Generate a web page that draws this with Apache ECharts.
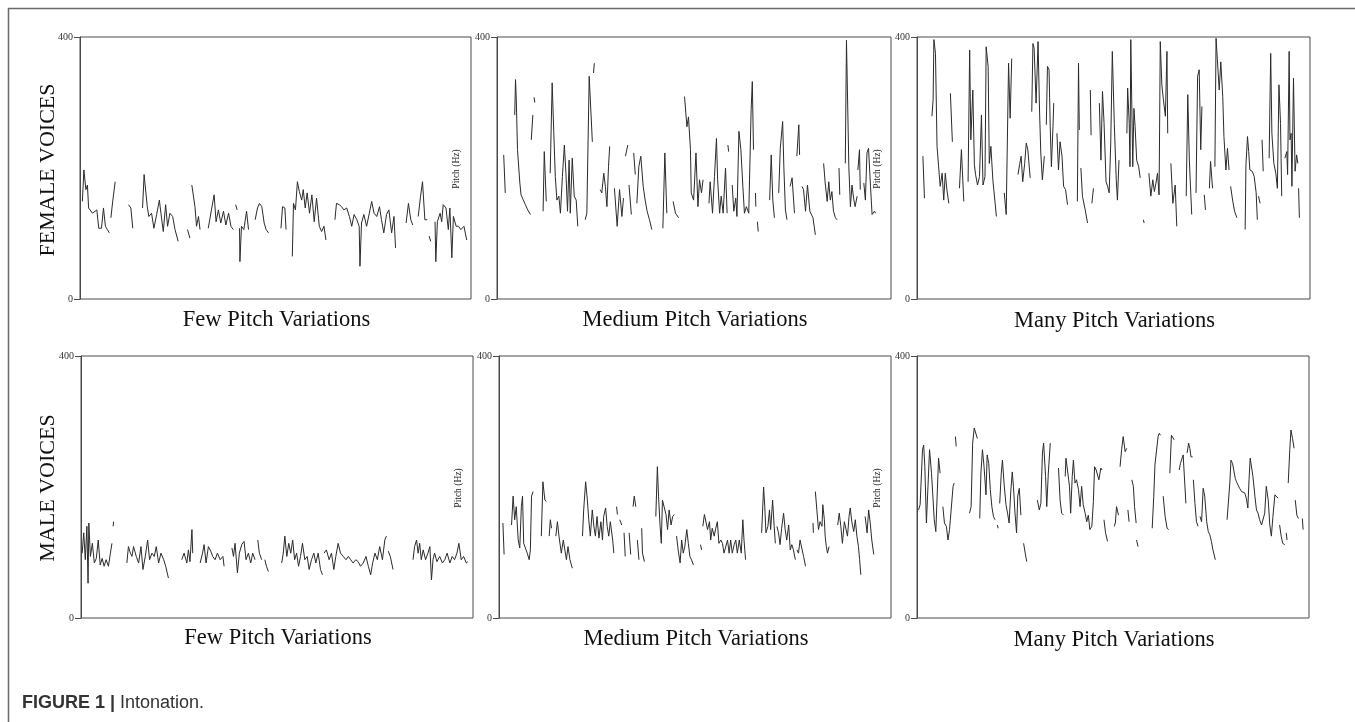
<!DOCTYPE html>
<html>
<head>
<meta charset="utf-8">
<script src="https://cdn.jsdelivr.net/npm/echarts@6/dist/echarts.min.js"></script>
<style>
html,body{margin:0;padding:0;background:#fff;}
#chart{width:1355px;height:722px;}
</style>
</head>
<body>
<div id="chart"></div>
<script>
// ---- data: pitch contours, x = % of recording duration, y = pitch (Hz); each inner list is one voiced segment ----
const yTicks = [0, 400];
const rowLabels = ["FEMALE VOICES", "MALE VOICES"];
const columnTitles = ["Few Pitch Variations", "Medium Pitch Variations", "Many Pitch Variations"];
const yAxisName = "Pitch (Hz)";

const femaleFew = [
 [[0.6,149],[1.0,197],[1.5,167],[1.9,174],[2.2,139],[2.7,136],[3.2,131],[3.7,134],[4.3,136],[4.8,108],[5.5,108],[6.0,139],[6.5,111],[7.0,106],[7.5,101]],
 [[7.9,124],[8.4,151],[9.0,179]],
 [[12.4,144],[13.0,139],[13.5,108]],
 [[16.0,139],[16.4,190],[16.8,190],[17.2,141],[17.6,126],[18.3,131],[18.9,108],[19.6,129],[20.3,151],[20.7,131],[21.3,103],[21.9,144],[22.4,111],[23.0,131],[23.7,126],[24.3,106],[25.1,88]],
 [[27.5,106],[28.1,93]],
 [[28.6,174],[28.8,177],[29.4,141],[29.8,111],[30.3,126],[30.7,106]],
 [[32.8,108],[33.7,139],[34.3,159],[34.8,118],[35.4,136],[36.0,116],[36.7,134],[37.3,113],[38.0,131],[38.6,111],[39.2,106]],
 [[39.8,144],[40.2,136]],
 [[40.8,108],[40.9,57],[41.3,111],[41.9,106],[42.6,134],[43.1,106]],
 [[44.8,121],[45.4,139],[45.9,146],[46.5,141],[47.1,116],[47.6,106],[48.2,101]],
 [[51.4,108],[51.8,141],[52.4,139],[52.7,106]],
 [[54.3,65],[54.6,146],[55.1,136],[55.6,179],[56.1,164],[56.7,151],[57.1,167],[57.6,139],[58.1,162],[58.7,131],[59.3,159],[59.9,118],[60.5,154],[61.2,111],[61.8,103],[62.4,111],[62.9,90]],
 [[65.2,121],[65.6,146],[66.3,144],[66.9,141],[67.5,136],[68.2,139],[68.9,126],[69.5,111],[70.1,129],[70.8,121],[71.4,111],[71.6,50],[72.0,116],[72.6,129],[73.3,111],[74.0,131],[74.6,149],[75.2,131],[75.9,126],[76.6,141],[77.1,121],[77.7,101],[78.4,129],[79.0,136],[79.7,101],[80.3,126],[80.7,78]],
 [[83.4,116],[84.0,146],[84.6,121],[85.1,113]],
 [[86.5,126],[87.1,157],[87.6,179],[88.2,121],[88.8,121]],
 [[89.3,96],[89.7,88]],
 [[90.8,118],[91.0,57],[91.4,118],[92.1,131],[92.5,118],[92.9,144],[93.6,139],[94.2,106],[94.6,139],[95.1,63],[95.5,126],[96.2,111],[96.8,111],[97.4,106],[98.2,111],[98.9,90]]
];

const femaleMedium = [
 [[1.7,220],[2.1,162]],
 [[4.5,281],[4.7,335],[4.9,304],[5.2,228],[5.8,177],[6.1,159],[6.6,162],[7.2,144],[7.8,136],[8.5,129]],
 [[8.7,243],[9.1,281]],
 [[9.4,308],[9.6,300]],
 [[11.7,134],[12.0,225],[12.5,149]],
 [[13.5,192],[14.0,330],[14.4,256],[14.8,187],[15.2,151],[15.7,157],[16.1,131],[16.6,187],[17.1,235],[17.5,192],[17.9,134],[18.3,212],[18.6,131],[19.1,215],[19.6,157],[20.1,151],[20.5,111]],
 [[22.4,121],[22.8,131],[23.4,340],[23.8,342],[24.2,240]],
 [[24.5,345],[24.7,360]],
 [[26.2,167],[26.6,162],[27.1,192],[27.5,172],[27.9,141],[28.3,202],[28.6,233]],
 [[29.8,169],[30.5,111],[31.1,167],[31.7,126],[32.1,154]],
 [[32.6,218],[33.2,235]],
 [[33.5,174],[34.1,129]],
 [[34.7,223],[35.1,190]],
 [[35.5,146],[36.0,202],[36.5,218],[37.1,172],[37.6,151],[38.1,134],[38.7,121],[39.3,106]],
 [[42.1,108],[42.6,223],[43.1,131]],
 [[44.7,149],[45.3,131],[46.1,124]],
 [[47.6,309],[48.2,263],[48.6,278],[49.1,228],[49.3,162],[49.9,151],[50.5,223],[51.0,141],[51.4,182],[51.9,162],[52.3,182]],
 [[53.8,146],[54.1,179],[54.7,131],[55.2,187],[55.7,245],[56.0,182],[56.5,131],[56.9,157],[57.4,131],[58.0,200],[58.4,131]],
 [[58.6,235],[58.8,225]],
 [[59.7,174],[60.1,134],[60.6,154],[60.9,126],[61.4,256],[61.9,228],[62.4,172],[62.8,131],[63.3,141],[63.9,131],[64.5,289],[64.8,332],[65.1,228]],
 [[65.6,162],[65.7,141]],
 [[66.1,118],[66.3,103]],
 [[69.2,151],[69.6,220],[70.0,151],[70.4,124]],
 [[71.5,162],[71.9,230],[72.5,271],[72.8,202],[73.2,136],[73.6,121]],
 [[74.4,172],[74.9,185],[75.5,131]],
 [[76.1,218],[76.6,266],[76.8,220]],
 [[77.4,172],[77.8,167],[78.3,134],[78.8,174],[79.4,134],[79.7,131],[80.2,124],[80.8,98]],
 [[82.9,207],[83.3,177],[83.8,149],[84.2,179],[84.6,151],[85.0,164],[85.4,134],[85.9,124],[86.3,121]],
 [[86.8,200],[87.0,159]],
 [[88.4,207],[88.7,395],[89.0,393],[89.3,202],[89.7,141],[90.1,174],[90.5,154],[90.9,141],[91.4,157]],
 [[91.6,197],[92.0,228],[92.2,167]],
 [[93.1,177],[93.5,151],[93.9,223],[94.3,230],[94.8,172],[95.2,129],[95.8,134],[96.1,131]]
];

const femaleMany = [
 [[1.5,218],[1.9,154]],
 [[3.8,279],[4.1,304],[4.3,396],[4.7,375],[5.1,233],[5.5,202],[5.9,172],[6.4,192],[6.8,151],[7.2,192],[7.6,167],[8.1,146]],
 [[8.5,314],[9.0,240]],
 [[10.8,169],[11.3,228],[11.9,149]],
 [[13.0,179],[13.4,380],[13.7,243],[14.2,319],[14.6,205],[14.9,190],[15.4,174],[15.9,187],[16.4,281],[16.8,174],[17.3,187],[17.6,385],[18.1,355],[18.4,207],[18.8,233],[19.3,182],[19.8,151],[20.2,126]],
 [[22.2,162],[22.7,129],[23.3,360],[23.7,276],[24.1,367]],
 [[25.7,190],[26.1,205],[26.5,218],[26.9,179],[27.4,207],[27.8,238],[28.2,228],[28.8,185]],
 [[29.2,286],[29.5,390],[29.8,383],[30.3,299],[30.8,393],[31.2,284],[31.5,223],[31.9,182],[32.4,218]],
 [[32.9,266],[33.2,355],[33.6,350],[33.9,263],[34.2,202],[34.6,263],[34.8,299]],
 [[35.6,253],[36.0,197],[36.4,240],[36.9,218],[37.3,172],[37.8,167],[38.3,144]],
 [[40.8,149],[41.1,360],[41.3,258]],
 [[41.7,200],[42.1,157],[42.8,136],[43.4,116]],
 [[44.1,319],[44.3,250]],
 [[44.5,146],[44.9,169]],
 [[46.4,299],[46.8,212],[47.2,317],[47.6,268],[48.1,179],[48.5,172],[48.9,162],[49.3,238],[49.7,378],[50.2,268],[50.7,182],[51.0,151],[51.4,212]],
 [[53.4,253],[53.6,322],[54.0,268],[54.2,202],[54.4,396],[54.7,398],[54.9,202],[55.2,291],[55.5,263],[55.9,212],[56.4,202],[56.8,185]],
 [[57.6,121],[57.8,116]],
 [[59.0,192],[59.5,157],[60.0,182],[60.4,164],[60.8,177],[61.2,192],[61.6,159],[61.9,393],[62.3,327],[62.7,304],[63.2,279],[63.6,378],[63.8,253]],
 [[64.6,207],[65.1,146],[65.7,174],[66.1,111]],
 [[68.5,157],[68.9,312],[69.3,212],[69.9,129]],
 [[71.0,162],[71.4,340],[71.8,350],[72.2,228],[72.5,294]],
 [[73.1,159],[73.4,136]],
 [[74.4,169],[74.7,210],[75.2,169]],
 [[75.8,202],[76.1,398],[76.5,398],[76.9,319],[77.3,362],[77.8,309],[78.1,248],[78.6,197],[79.0,230],[79.4,197]],
 [[79.8,172],[80.3,151],[80.8,134],[81.4,124]],
 [[83.5,106],[83.7,205],[84.1,248],[84.4,225],[84.7,197],[85.3,195],[85.8,187],[86.3,162],[86.6,121]],
 [[86.9,157],[87.3,146]],
 [[87.8,243],[88.1,195]],
 [[89.6,215],[90.0,375],[90.3,253],[90.8,207],[91.3,192],[91.7,169],[92.1,327],[92.5,268],[92.8,157]],
 [[93.6,215],[94.1,225],[94.3,190],[94.7,378],[94.9,243],[95.2,253],[95.4,172],[95.8,337],[96.2,195],[96.6,220],[96.9,207]],
 [[97.1,169],[97.3,124]]
];

const maleFew = [
 [[0.3,99],[0.7,130],[1.1,89],[1.5,140],[1.8,53],[2.0,145],[2.4,94],[2.9,114],[3.4,84],[3.9,91],[4.4,119],[4.9,81],[5.4,91],[5.9,79],[6.4,89],[7.0,79],[7.5,99],[7.9,114]],
 [[8.2,140],[8.3,147]],
 [[11.7,84],[12.1,109],[12.6,99],[13.0,94],[13.4,109],[14.1,94],[14.7,84],[15.3,109],[15.8,74],[16.4,94],[17.0,119],[17.5,89],[18.1,99],[18.7,94],[19.2,109],[19.8,84],[20.4,99],[21.1,89],[21.6,79],[22.3,61]],
 [[25.7,89],[26.3,99],[27.0,84],[27.4,104],[27.8,86],[28.3,135],[28.5,99]],
 [[30.4,84],[31.0,99],[31.4,112],[31.9,84],[32.5,109],[33.1,102],[33.6,94],[34.2,89],[34.8,99],[35.5,89],[36.2,94],[36.5,79]],
 [[38.5,107],[38.9,94],[39.3,114],[39.9,69],[40.4,99],[41.0,112],[41.6,117],[42.1,89],[42.7,99],[43.3,84],[43.8,99],[44.4,89]],
 [[45.1,119],[45.5,99],[46.1,89]],
 [[46.9,89],[47.3,79],[47.8,71]],
 [[51.2,84],[51.6,99],[52.0,125],[52.5,94],[53.0,114],[53.5,99],[54.0,119],[54.5,89],[55.0,99],[55.5,79],[56.0,94],[56.5,114],[57.1,89],[57.7,94],[58.2,74],[58.8,89],[59.4,99],[59.9,84],[60.5,99],[61.1,74],[61.6,66]],
 [[62.0,99],[62.6,104],[63.3,89],[63.9,99],[64.5,74],[65.0,94],[65.6,114],[66.2,99],[66.9,94],[67.6,89],[68.2,94],[68.8,89],[69.4,84],[70.1,89],[70.7,86],[71.3,79],[72.0,84],[72.7,94],[73.3,79],[73.9,66],[74.4,84],[75.0,99],[75.6,89],[76.2,109],[76.9,89],[77.5,119],[77.9,125]],
 [[78.4,102],[78.9,94],[79.6,74]],
 [[84.7,89],[85.1,109],[85.6,119],[86.0,99],[86.4,114],[86.8,89],[87.3,104],[87.9,89],[88.5,99],[89.0,109],[89.4,58],[89.8,89],[90.2,99],[90.8,86],[91.5,94],[92.2,84],[92.8,89],[93.4,99],[94.1,84],[94.7,94],[95.3,89],[95.9,99],[96.4,114],[97.0,89],[97.6,94],[98.3,84],[98.7,86]]
];

const maleMedium = [
 [[1.0,145],[1.3,97]],
 [[3.2,142],[3.6,186],[4.0,150],[4.4,170],[4.9,119],[5.3,107],[5.7,170],[6.0,186],[6.3,114],[6.8,112],[7.2,99],[7.7,89],[8.0,104],[8.3,186],[8.7,193]],
 [[10.8,125],[11.2,208],[11.7,180],[12.1,178]],
 [[12.8,125],[13.1,150],[13.4,137]],
 [[14.5,125],[14.9,147],[15.3,125],[15.9,99],[16.4,119],[16.8,122],[17.2,89],[17.6,109],[18.1,89],[18.7,76]],
 [[21.3,125],[21.6,165],[22.1,208],[22.5,183],[22.9,150],[23.3,125],[23.8,165],[24.2,140],[24.6,125],[25.0,155],[25.5,122],[26.0,147],[26.4,119],[26.7,155],[27.2,168],[27.6,140],[28.0,125],[28.4,147],[29.0,119],[29.3,99]],
 [[30.0,170],[30.2,158]],
 [[30.8,150],[31.3,142]],
 [[31.9,130],[32.2,94]],
 [[33.2,130],[33.6,97]],
 [[34.2,170],[34.5,186],[34.9,170]],
 [[35.3,119],[35.7,89]],
 [[36.4,137],[36.6,99],[37.1,86]],
 [[40.0,155],[40.4,231],[40.7,186],[41.1,140],[41.4,114],[41.7,180],[42.2,180],[42.6,158],[43.0,135],[43.4,165],[43.9,142],[44.3,155],[44.7,158]],
 [[45.3,125],[45.7,104],[46.2,84],[46.6,119],[47.0,99],[47.4,109],[47.9,135],[48.3,114],[48.7,94],[49.1,89],[49.6,81]],
 [[51.4,112],[51.7,104]],
 [[52.0,140],[52.4,158],[52.8,160],[53.2,135],[53.7,147],[54.0,119],[54.4,137],[54.9,125],[55.3,137],[55.7,147],[56.1,114],[56.6,119],[57.0,114],[57.4,99],[57.8,97],[58.3,119],[58.7,99],[59.1,119],[59.5,99],[60.0,112],[60.4,119],[60.8,99],[61.3,119],[61.8,99],[62.2,150],[62.5,119],[62.9,89]],
 [[67.0,130],[67.5,200],[67.8,170],[68.1,130],[68.6,140],[69.0,165],[69.3,135],[69.8,180],[70.2,140],[70.5,114]],
 [[70.9,140],[71.3,130],[71.7,112],[72.1,137],[72.6,160],[73.0,135],[73.4,119],[73.9,142],[74.3,104],[74.7,112],[75.1,104],[75.6,89]],
 [[76.0,104],[76.4,99],[76.8,119],[77.3,119],[77.7,94],[78.2,79]],
 [[80.1,145],[80.2,130]],
 [[80.7,193],[81.1,193],[81.5,135],[81.9,147],[82.4,140],[82.6,173],[83.0,150],[83.2,125],[83.5,109],[83.8,99],[84.2,109]],
 [[86.4,142],[86.8,160],[87.2,140],[87.6,114],[88.1,147],[88.5,150],[88.9,125],[89.3,155],[89.6,168],[90.0,147],[90.5,132],[90.9,150],[91.3,125],[91.7,109],[92.0,89],[92.3,66]],
 [[93.4,155],[93.9,130],[94.3,165],[94.7,145],[95.1,119],[95.6,97]]
];

const maleMany = [
 [[0.4,165],[0.8,173],[1.2,175],[1.4,257],[1.7,264],[2.0,231],[2.4,145],[2.8,201],[3.2,257],[3.7,221],[4.0,191],[4.4,150],[4.8,132],[5.1,180],[5.5,244],[5.9,221]],
 [[6.6,170],[7.0,145],[7.5,140],[7.9,119],[8.3,135],[8.7,137],[9.2,201],[9.5,206]],
 [[9.8,277],[10.0,262]],
 [[13.4,160],[13.8,170],[14.2,267],[14.6,290],[14.9,292],[15.4,274]],
 [[16.0,152],[16.3,221],[16.7,257],[17.1,231],[17.6,188],[17.9,249],[18.3,236],[18.7,196],[19.1,170],[19.5,155],[19.9,150]],
 [[20.5,142],[20.7,137]],
 [[21.1,175],[21.5,221],[21.8,241],[22.2,206],[22.7,173],[23.1,160],[23.5,145],[23.9,191],[24.3,223],[24.6,201],[25.0,160],[25.4,130],[25.7,186],[26.1,198],[26.5,157]],
 [[27.2,114],[27.6,99],[28.0,86]],
 [[30.7,180],[31.2,165],[31.6,175],[32.0,252],[32.3,267],[32.8,216],[33.1,170],[33.5,221],[34.0,267]],
 [[36.1,229],[36.5,180],[36.9,160],[37.4,157]],
 [[37.8,216],[38.0,244],[38.5,241],[38.9,201],[39.2,160],[39.6,216],[39.9,241],[40.3,206],[40.7,211],[41.2,196],[41.6,170],[42.0,201],[42.4,173],[42.9,160],[43.3,147],[43.7,157],[44.1,135],[44.6,140],[45.0,178],[45.3,231],[45.7,226],[46.0,229],[46.4,211],[46.9,229],[47.2,226]],
 [[47.7,150],[48.1,130],[48.6,117]],
 [[50.3,140],[50.6,145],[50.9,170],[51.4,157]],
 [[51.8,231],[52.2,257],[52.6,277],[53.1,254],[53.5,259]],
 [[53.8,165],[54.1,147]],
 [[54.8,211],[55.2,201],[55.5,170],[55.9,145]],
 [[56.0,119],[56.4,109]],
 [[60.0,137],[60.4,186],[60.7,234],[61.1,234],[61.5,277],[61.8,282],[62.1,279]],
 [[62.8,186],[63.3,155],[63.8,137],[64.2,135]],
 [[64.5,221],[64.9,279],[65.4,279],[65.6,272]],
 [[66.9,226],[67.2,236],[67.7,236],[67.9,249],[68.3,206],[68.6,175]],
 [[68.9,252],[69.3,267],[69.6,259],[69.9,246],[70.3,246]],
 [[70.5,211],[70.9,175],[71.3,147],[71.7,140]],
 [[72.2,155],[72.6,147],[73.0,198],[73.4,186],[73.9,147],[74.3,132],[74.7,127],[75.1,117],[75.5,104],[76.1,89]],
 [[79.1,150],[79.5,150],[79.8,206],[80.1,241],[80.5,236],[80.8,226],[81.2,213],[81.5,208],[81.9,203],[82.3,198],[82.8,193],[83.2,191],[83.6,191],[84.0,183],[84.4,168],[84.7,211],[85.0,244],[85.4,241],[85.7,216],[86.2,186],[86.6,165],[87.0,160],[87.4,150],[87.9,142],[88.3,140],[88.7,160],[89.1,201],[89.6,180],[90.0,142],[90.4,125],[90.8,155],[91.3,188],[91.7,186],[92.1,183]],
 [[92.5,142],[92.9,125],[93.3,114],[93.8,112]],
 [[94.2,130],[94.4,119]],
 [[94.7,206],[95.1,257],[95.4,287],[95.8,274],[96.2,259]],
 [[96.5,180],[96.9,157],[97.3,152]],
 [[98.3,152],[98.5,135]]
];

// ---- layout ----
const panels = [
  {segs: femaleFew,    grid: {left: 80,  top: 37,  width: 391, height: 262}, title: columnTitles[0], ty: 320, pitchX: 456},
  {segs: femaleMedium, grid: {left: 497, top: 37,  width: 394, height: 262}, title: columnTitles[1], ty: 320, pitchX: 877},
  {segs: femaleMany,   grid: {left: 917, top: 37,  width: 393, height: 262}, title: columnTitles[2], ty: 321, pitchX: null},
  {segs: maleFew,      grid: {left: 81,  top: 356, width: 392, height: 262}, title: columnTitles[0], ty: 638, pitchX: 458},
  {segs: maleMedium,   grid: {left: 499, top: 356, width: 392, height: 262}, title: columnTitles[1], ty: 639, pitchX: 877},
  {segs: maleMany,     grid: {left: 917, top: 356, width: 392, height: 262}, title: columnTitles[2], ty: 640, pitchX: null}
];

function toSeriesData(segs) {
  const out = [];
  segs.forEach((s, i) => {
    s.forEach(p => out.push(p));
    if (i < segs.length - 1) out.push([s[s.length - 1][0] + 0.05, null]);
  });
  return out;
}

const SERIF = '"Liberation Serif", "DejaVu Serif", serif';
const grids = [], xAxes = [], yAxes = [], series = [], graphics = [];

panels.forEach((p, i) => {
  grids.push(Object.assign({show: true, borderColor: '#4a4a4a', borderWidth: 1, backgroundColor: 'transparent'}, p.grid));
  xAxes.push({type: 'value', gridIndex: i, min: 0, max: 100,
    axisLine: {show: false}, axisTick: {show: false}, axisLabel: {show: false}, splitLine: {show: false}});
  yAxes.push({type: 'value', gridIndex: i, min: yTicks[0], max: yTicks[1], interval: yTicks[1] - yTicks[0],
    axisLine: {show: true, lineStyle: {color: '#4a4a4a', width: 1}},
    axisTick: {show: true, length: 6, lineStyle: {color: '#4a4a4a'}},
    axisLabel: {show: true, margin: 7, fontFamily: SERIF, fontSize: 10, color: '#333'},
    splitLine: {show: false}});
  series.push({type: 'line', xAxisIndex: i, yAxisIndex: i, data: toSeriesData(p.segs),
    showSymbol: false, symbol: 'none', connectNulls: false, silent: true,
    lineStyle: {color: '#2b2b2b', width: 1}});
  const cx = p.grid.left + p.grid.width / 2;
  graphics.push({type: 'text', x: cx + 1, y: p.ty,
    style: {text: p.title, font: '22.5px ' + SERIF, fill: '#111', textAlign: 'center', textVerticalAlign: 'middle'}});
  if (p.pitchX !== null) {
    graphics.push({type: 'text', x: p.pitchX, y: p.grid.top + 132, rotation: Math.PI / 2,
      style: {text: yAxisName, font: '9.5px ' + SERIF, fill: '#222', textAlign: 'center', textVerticalAlign: 'middle'}});
  }
});

graphics.push({type: 'text', x: 48, y: 170, rotation: Math.PI / 2,
  style: {text: rowLabels[0], font: '22px ' + SERIF, fill: '#111', textAlign: 'center', textVerticalAlign: 'middle'}});
graphics.push({type: 'text', x: 48, y: 488, rotation: Math.PI / 2,
  style: {text: rowLabels[1], font: '22px ' + SERIF, fill: '#111', textAlign: 'center', textVerticalAlign: 'middle'}});

graphics.push({type: 'polyline', shape: {points: [[8.5, 722], [8.5, 8.5], [1355, 8.5]]},
  style: {stroke: '#6a6a6a', lineWidth: 1.5, fill: null}, z: 10});

graphics.push({type: 'text', x: 22, y: 703,
  style: {text: '{b|FIGURE 1 |} Intonation.', font: '18px "Liberation Sans", Arial, sans-serif', fill: '#333',
    textVerticalAlign: 'middle', textAlign: 'left',
    rich: {b: {fontWeight: 'bold', fontSize: 18, fontFamily: '"Liberation Sans", Arial, sans-serif', fill: '#333'}}}});

const chart = echarts.init(document.getElementById('chart'), null, {renderer: 'canvas'});
chart.setOption({
  animation: false,
  backgroundColor: '#fff',
  grid: grids, xAxis: xAxes, yAxis: yAxes, series: series, graphic: graphics
});
</script>
</body>
</html>
